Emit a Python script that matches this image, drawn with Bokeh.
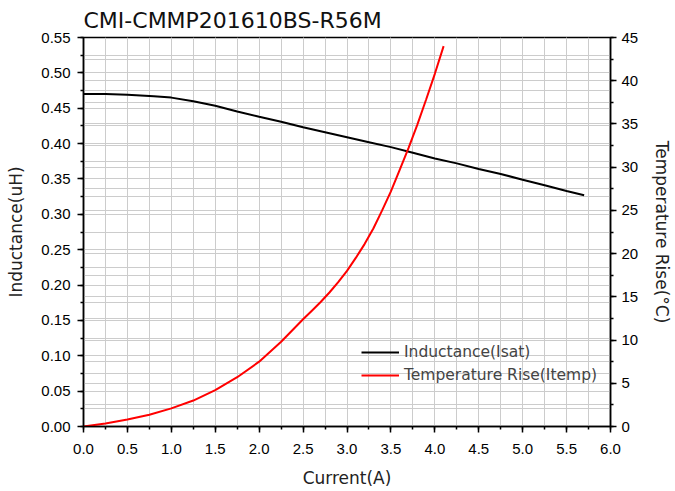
from bokeh.plotting import figure
from bokeh.models import (Range1d, LinearAxis, SingleIntervalTicker, PrintfTickFormatter,
                          Grid, Legend, LegendItem)
from bokeh.embed import file_html
from bokeh.resources import INLINE

# ---- data ----
current_L = [0.0, 0.25, 0.5, 0.8, 1.0, 1.25, 1.5, 1.75, 2.0, 2.25, 2.5, 2.75, 3.0, 3.25,
             3.5, 3.75, 4.0, 4.25, 4.5, 4.75, 5.0, 5.25, 5.5, 5.7]
inductance = [0.470, 0.470, 0.469, 0.467, 0.465, 0.460, 0.4535, 0.4455, 0.438, 0.431, 0.423,
              0.416, 0.409, 0.402, 0.395, 0.387, 0.379, 0.372, 0.364, 0.357, 0.349, 0.341,
              0.333, 0.327]
current_T = [0.0, 0.25, 0.5, 0.75, 1.0, 1.25, 1.5, 1.75, 2.0, 2.25, 2.5, 2.6, 2.7, 2.8,
             2.9, 3.0, 3.1, 3.2, 3.3, 3.4, 3.5, 3.6, 3.7, 3.8, 3.9, 4.0, 4.1]
temp_rise = [0.0, 0.35, 0.8, 1.35, 2.1, 3.0, 4.2, 5.7, 7.5, 9.8, 12.4, 13.4, 14.4, 15.5,
             16.7, 18.0, 19.5, 21.1, 22.9, 25.0, 27.2, 29.7, 32.2, 34.9, 37.8, 40.8, 44.0]

title_text = "CMI-CMMP201610BS-R56M"
x_label = "Current(A)"
y_label = "Inductance(uH)"
y2_label = "Temperature Rise(°C)"
legend_labels = ["Inductance(Isat)", "Temperature Rise(Itemp)"]

GRID = "#cccccc"
TICK_FONT = "Liberation Sans"
LABEL_FONT = "DejaVu Sans"

p = figure(width=675, height=491, output_backend="svg", toolbar_location=None,
           x_range=Range1d(0, 6), y_range=Range1d(0, 0.55),
           min_border_left=83, min_border_right=64, min_border_top=37, min_border_bottom=65)
p.extra_y_ranges = {"temp": Range1d(0, 45)}

p.title.text = title_text
p.title.text_font = LABEL_FONT
p.title.text_font_size = "22px"
p.title.text_font_style = "normal"
p.title.text_color = "#111111"
p.title.align = "left"
p.title.standoff = 9

p.outline_line_color = "black"
p.outline_line_width = 1.5

xt = SingleIntervalTicker(interval=0.5, num_minor_ticks=2)
yt = SingleIntervalTicker(interval=0.05, num_minor_ticks=2)
y2t = SingleIntervalTicker(interval=5, num_minor_ticks=2)

xaxis = p.xaxis[0]
yaxis = p.yaxis[0]
xaxis.ticker = xt
yaxis.ticker = yt
xaxis.formatter = PrintfTickFormatter(format="%.1f")
yaxis.formatter = PrintfTickFormatter(format="%.2f")
xaxis.axis_label = x_label
yaxis.axis_label = y_label

p.xgrid.ticker = xt
p.ygrid.ticker = yt
for g in (p.xgrid[0], p.ygrid[0]):
    g.grid_line_color = GRID
    g.minor_grid_line_color = GRID

g2 = Grid(dimension=1, ticker=y2t, y_range_name="temp",
          grid_line_color=GRID, minor_grid_line_color=GRID)
p.add_layout(g2)

y2 = LinearAxis(y_range_name="temp", ticker=y2t, axis_label=y2_label)
p.add_layout(y2, "right")

for ax in (xaxis, yaxis, y2):
    ax.axis_line_color = "black"
    ax.axis_line_width = 1.5
    ax.major_tick_line_color = "black"
    ax.minor_tick_line_color = "black"
    ax.major_tick_line_width = 1.5
    ax.minor_tick_line_width = 1.5
    ax.major_tick_in = 0
    ax.major_tick_out = 6
    ax.minor_tick_in = 0
    ax.minor_tick_out = 3
    ax.major_label_text_font = TICK_FONT
    ax.major_label_text_font_size = "15px"
    ax.major_label_text_color = "black"
    ax.axis_label_text_font = LABEL_FONT
    ax.axis_label_text_font_size = "17px"
    ax.axis_label_text_font_style = "normal"
    ax.axis_label_text_color = "#222222"

xaxis.major_label_standoff = 11
xaxis.axis_label_standoff = 11
yaxis.major_label_standoff = 7
yaxis.axis_label_standoff = 12
y2.major_label_standoff = 5
y2.axis_label_standoff = 11

r1 = p.line(current_L, inductance, line_color="black", line_width=2)
r2 = p.line(current_T, temp_rise, line_color="#ff0000", line_width=2, y_range_name="temp")

legend = Legend(items=[LegendItem(label=legend_labels[0], renderers=[r1]),
                       LegendItem(label=legend_labels[1], renderers=[r2])],
                location=(274, 37), background_fill_alpha=0, border_line_alpha=0,
                label_text_font=LABEL_FONT, label_text_font_size="15.5px",
                glyph_width=38, glyph_height=20, label_height=20, spacing=3,
                label_standoff=5, padding=4, margin=0)
p.add_layout(legend)

open("out.html", "w").write(file_html(p, INLINE))
